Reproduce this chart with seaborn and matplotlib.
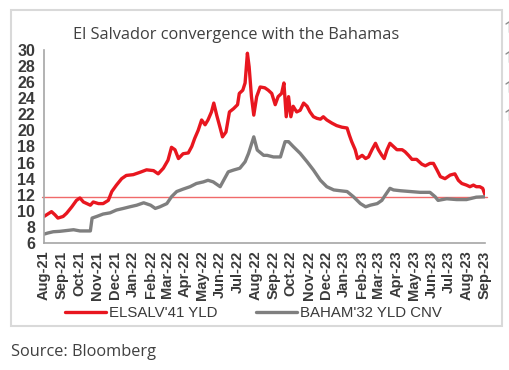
import pandas as pd
import matplotlib.pyplot as plt
import matplotlib.dates as mdates
from matplotlib.patches import Rectangle
from matplotlib.lines import Line2D
import seaborn as sns

# ELSALV'41 yield
red_dates = [
    "2021-08-01", "2021-08-14", "2021-08-20", "2021-08-25", "2021-09-03", "2021-09-09",
    "2021-09-18", "2021-09-26", "2021-10-02", "2021-10-08", "2021-10-14", "2021-10-20",
    "2021-10-25", "2021-11-03", "2021-11-11", "2021-11-20", "2021-11-26", "2021-12-04",
    "2021-12-13", "2021-12-21", "2022-01-02", "2022-01-14", "2022-01-25", "2022-02-06",
    "2022-02-14", "2022-02-23", "2022-03-03", "2022-03-09", "2022-03-15", "2022-03-21",
    "2022-03-29", "2022-04-07", "2022-04-13", "2022-04-18", "2022-04-24", "2022-04-30",
    "2022-05-06", "2022-05-11", "2022-05-17", "2022-05-21", "2022-05-26", "2022-06-01",
    "2022-06-05", "2022-06-11", "2022-06-17", "2022-06-24", "2022-07-01", "2022-07-04",
    "2022-07-10", "2022-07-14", "2022-07-18", "2022-07-21", "2022-07-25", "2022-07-29",
    "2022-08-03", "2022-08-09", "2022-08-17", "2022-08-23", "2022-08-29", "2022-09-04",
    "2022-09-09", "2022-09-15", "2022-09-19", "2022-09-23", "2022-09-27", "2022-10-01",
    "2022-10-05", "2022-10-11", "2022-10-17", "2022-10-23", "2022-10-29", "2022-11-03",
    "2022-11-09", "2022-11-15", "2022-11-21", "2022-11-26", "2022-12-02", "2022-12-11",
    "2022-12-19", "2022-12-28", "2023-01-06", "2023-01-10", "2023-01-14", "2023-01-20",
    "2023-01-24", "2023-02-01", "2023-02-07", "2023-02-12", "2023-02-18", "2023-02-24",
    "2023-03-01", "2023-03-07", "2023-03-11", "2023-03-16", "2023-03-21", "2023-03-27",
    "2023-04-02", "2023-04-11", "2023-04-16", "2023-04-22", "2023-04-28", "2023-05-06",
    "2023-05-15", "2023-05-21", "2023-05-29", "2023-06-04", "2023-06-10", "2023-06-16",
    "2023-06-24", "2023-07-03", "2023-07-11", "2023-07-17", "2023-07-23", "2023-07-31",
    "2023-08-06", "2023-08-12", "2023-08-17", "2023-08-23", "2023-08-28", "2023-09-01",
]
red_vals = [
    9.3, 9.9, 9.5, 9.1, 9.3, 9.7,
    10.5, 11.3, 11.6, 11.1, 10.9, 10.7,
    11.1, 10.9, 10.9, 11.3, 12.4, 13.2,
    14.0, 14.4, 14.5, 14.8, 15.1, 15.0,
    14.6, 15.3, 16.3, 17.9, 17.6, 16.5,
    17.1, 17.2, 18.0, 19.0, 20.0, 21.3,
    20.7, 21.3, 22.3, 23.4, 21.9, 20.3,
    19.2, 19.8, 22.3, 22.7, 23.2, 24.6,
    25.0, 25.9, 29.6, 27.9, 24.2, 21.9,
    24.2, 25.4, 25.3, 25.0, 24.6, 23.2,
    24.2, 24.6, 25.9, 21.7, 24.2, 21.7,
    23.0, 22.3, 22.5, 23.4, 23.0, 22.3,
    21.7, 21.5, 21.4, 21.7, 21.3, 20.9,
    20.6, 20.4, 20.3, 19.4, 18.6, 17.6,
    16.5, 16.9, 16.5, 16.7, 17.6, 18.4,
    17.6, 16.9, 16.5, 17.6, 18.4, 18.0,
    17.6, 17.6, 17.35, 16.9, 16.4, 16.4,
    15.8, 15.6, 15.9, 15.9, 15.1, 14.25,
    14.0, 14.45, 14.6, 13.8, 13.4, 13.2,
    13.0, 13.2, 13.0, 13.0, 12.8, 12.0,
]

# BAHAM'32 yield
grey_dates = [
    "2021-08-01", "2021-08-08", "2021-08-17", "2021-08-28", "2021-09-15", "2021-09-21",
    "2021-10-02", "2021-10-20", "2021-10-23", "2021-10-31", "2021-11-11", "2021-11-23",
    "2021-12-04", "2021-12-16", "2021-12-27", "2022-01-08", "2022-01-20", "2022-02-01",
    "2022-02-09", "2022-02-17", "2022-03-01", "2022-03-09", "2022-03-18", "2022-03-29",
    "2022-04-10", "2022-04-21", "2022-05-03", "2022-05-11", "2022-05-20", "2022-06-01",
    "2022-06-07", "2022-06-15", "2022-06-24", "2022-07-05", "2022-07-14", "2022-07-20",
    "2022-07-29", "2022-08-04", "2022-08-15", "2022-08-21", "2022-09-01", "2022-09-13",
    "2022-09-21", "2022-09-27", "2022-10-05", "2022-10-17", "2022-10-29", "2022-11-09",
    "2022-11-21", "2022-12-02", "2022-12-14", "2022-12-25", "2023-01-06", "2023-01-17",
    "2023-01-29", "2023-02-07", "2023-02-15", "2023-02-27", "2023-03-07", "2023-03-13",
    "2023-03-21", "2023-03-27", "2023-04-08", "2023-04-25", "2023-05-12", "2023-05-29",
    "2023-06-07", "2023-06-12", "2023-06-27", "2023-07-14", "2023-07-31", "2023-08-17",
    "2023-09-01",
]
grey_vals = [
    7.1, 7.25, 7.4, 7.45, 7.6, 7.65,
    7.5, 7.5, 9.1, 9.3, 9.6, 9.75,
    10.1, 10.3, 10.5, 10.7, 11.0, 10.7,
    10.3, 10.5, 10.9, 11.75, 12.4, 12.7,
    13.0, 13.4, 13.6, 13.8, 13.6, 13.0,
    13.8, 14.85, 15.07, 15.3, 16.1, 17.15,
    19.2, 17.56, 16.9, 16.9, 16.7, 16.7,
    18.6, 18.6, 18.0, 17.15, 16.1, 15.07,
    13.8, 13.0, 12.6, 12.5, 12.4, 11.75,
    10.9, 10.5, 10.7, 10.9, 11.3, 11.96,
    12.8, 12.6, 12.5, 12.4, 12.3, 12.3,
    11.75, 11.3, 11.5, 11.4, 11.4, 11.7,
    11.75,
]

convergence_level = 11.7
series_names = ["ELSALV'41 YLD", "BAHAM'32 YLD CNV"]
y_ticks = list(range(6, 31, 2))

red_df = pd.DataFrame({"date": pd.to_datetime(red_dates), "yld": red_vals})
grey_df = pd.DataFrame({"date": pd.to_datetime(grey_dates), "yld": grey_vals})

sns.set_style("white")
plt.rcParams["font.family"] = ["Liberation Sans", "DejaVu Sans"]

fig = plt.figure(figsize=(5.1, 3.7), dpi=100)
ax = fig.add_axes([44 / 510, 127 / 370, 441 / 510, 193 / 370])

sns.lineplot(data=red_df, x="date", y="yld", ax=ax, color="#e8161f", lw=2.4,
             label=series_names[0], legend=False)
sns.lineplot(data=grey_df, x="date", y="yld", ax=ax, color="#7f7f7f", lw=2.4,
             label=series_names[1], legend=False)
ax.axhline(convergence_level, color="#f06a6a", lw=1.0, xmin=-0.005, xmax=1.005,
           clip_on=False, zorder=1)

ax.set_xlim(pd.Timestamp("2021-08-01"), pd.Timestamp("2023-09-01"))
ax.set_ylim(6, 30)
ax.set_yticks(y_ticks)
ax.xaxis.set_major_locator(mdates.MonthLocator())
ax.xaxis.set_major_formatter(mdates.DateFormatter("%b-%y"))
ax.set_xlabel("")
ax.set_ylabel("")

for side in ["top", "right"]:
    ax.spines[side].set_visible(False)
for side in ["left", "bottom"]:
    ax.spines[side].set_color("#a6a6a6")
    ax.spines[side].set_linewidth(1.2)
ax.tick_params(axis="both", direction="out", length=3.5, width=1.0, color="#a6a6a6",
               labelcolor="#3a3a3a")
ax.tick_params(axis="y", labelsize=11.5, pad=3)
ax.tick_params(axis="x", labelsize=10.5, labelrotation=90, pad=2)
for lbl in ax.get_yticklabels() + ax.get_xticklabels():
    lbl.set_fontweight("bold")

handles, labels = ax.get_legend_handles_labels()
fig.legend(handles, labels, loc="center", bbox_to_anchor=(0.497, 1 - 313 / 370),
           ncol=2, frameon=False, fontsize=10.8, handlelength=2.7, handletextpad=0.2,
           columnspacing=2.6, labelcolor="#3a3a3a")

fig.text(73 / 510, 1 - 35 / 370, "El Salvador convergence with the Bahamas",
         fontsize=11.8, color="#404040", family=["Open Sans", "DejaVu Sans"], va="center")
fig.text(11 / 510, 1 - 352 / 370, "Source: Bloomberg", fontsize=11.8, color="#404040",
         family=["Open Sans", "DejaVu Sans"], va="center")

# light frame around the chart
fig.patches.append(Rectangle((11 / 510, 1 - 326 / 370), 491 / 510, 316 / 370,
                             transform=fig.transFigure, fill=False,
                             edgecolor="#d9d9d9", lw=1.5))
# cropped glyph fragments from the neighbouring panel at the right edge
for ypix in [27, 57, 87, 115]:
    fig.lines.append(Line2D([506 / 510, 509 / 510], [1 - (ypix - 3) / 370, 1 - (ypix - 5) / 370],
                            transform=fig.transFigure, color="#8c8c8c", lw=1.0))
    fig.lines.append(Line2D([509 / 510, 509 / 510], [1 - (ypix - 5) / 370, 1 - (ypix + 5) / 370],
                            transform=fig.transFigure, color="#8c8c8c", lw=1.0))

fig.savefig("out.png", dpi=100)
